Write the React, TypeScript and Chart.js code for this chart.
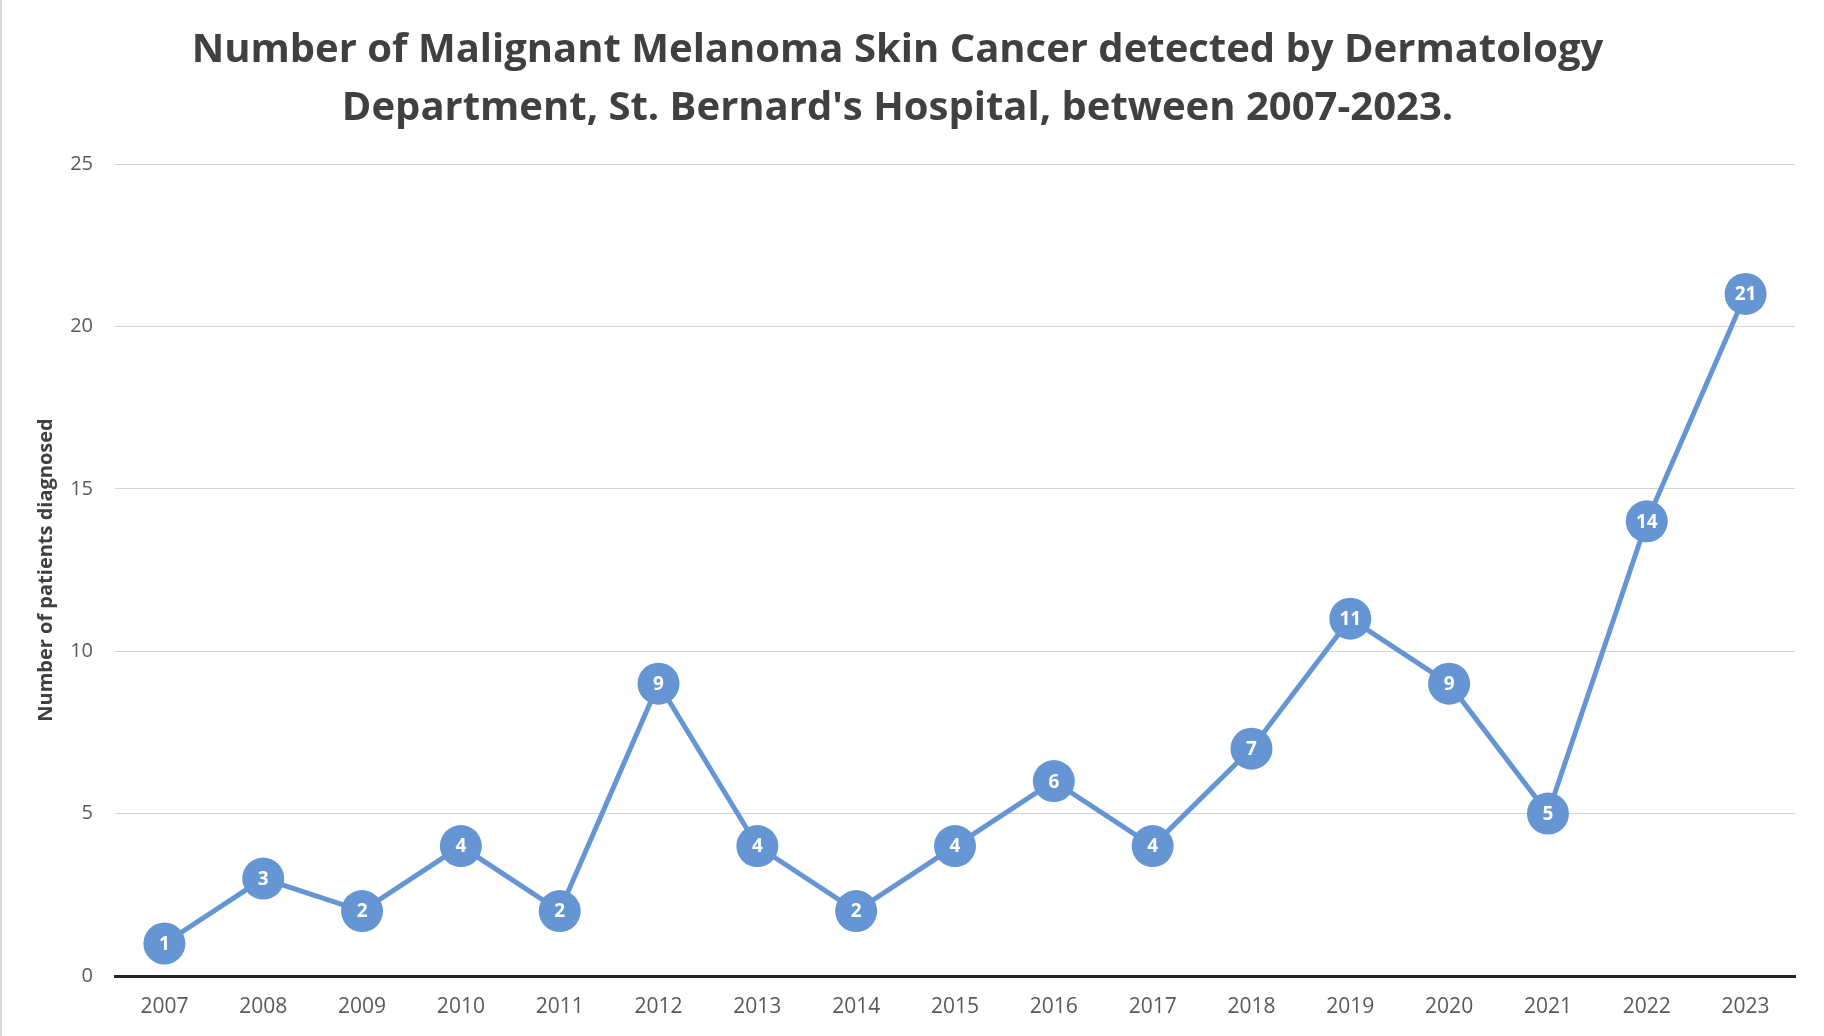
import React, { useEffect, useRef } from "react";
import { Chart, registerables } from "chart.js";

Chart.register(...registerables);

const years = ["2007", "2008", "2009", "2010", "2011", "2012", "2013", "2014", "2015", "2016", "2017", "2018", "2019", "2020", "2021", "2022", "2023"];
const patients = [1, 3, 2, 4, 2, 9, 4, 2, 4, 6, 4, 7, 11, 9, 5, 14, 21];
const titleLines = [
  "Number of Malignant Melanoma Skin Cancer detected by Dermatology",
  "Department, St. Bernard's Hospital, between 2007-2023.",
];
const yTitle = "Number of patients diagnosed";
const yMax = 25;
const yStep = 5;

const LINE = "#6596D3";
const SANS = '"Open Sans", sans-serif';

const pointLabels = {
  id: "pointLabels",
  afterDatasetsDraw(chart: any) {
    const ctx = chart.ctx;
    const meta = chart.getDatasetMeta(0);
    ctx.save();
    ctx.fillStyle = "#ffffff";
    ctx.font = 'bold 19px "Open Sans", sans-serif';
    ctx.textAlign = "center";
    ctx.textBaseline = "middle";
    meta.data.forEach((pt: any, i: number) => {
      ctx.fillText(String(patients[i]), pt.x, pt.y + 1);
    });
    ctx.restore();
  },
};

export default function App() {
  const ref = useRef<HTMLCanvasElement | null>(null);
  useEffect(() => {
    if (!ref.current) return;
    const chart = new Chart(ref.current, {
      type: "line",
      data: {
        labels: years,
        datasets: [
          {
            data: patients,
            borderColor: LINE,
            backgroundColor: LINE,
            borderWidth: 5,
            pointRadius: 21,
            pointBorderWidth: 0,
            pointBackgroundColor: LINE,
            tension: 0,
            clip: false as any,
          },
        ],
      },
      options: {
        animation: false,
        responsive: false,
        layout: { padding: { left: 0, right: 29, top: 0, bottom: 0 } },
        plugins: {
          legend: { display: false },
          tooltip: { enabled: false },
          title: {
            display: true,
            text: titleLines,
            color: "#404040",
            font: { family: SANS, size: 40, weight: "bold", lineHeight: 58 / 40 },
            padding: { top: 22, bottom: 26 },
          },
        },
        scales: {
          x: {
            offset: true,
            grid: { display: false, drawTicks: false },
            border: { display: true, color: "#262626", width: 3 },
            ticks: {
              color: "#595959",
              font: { family: SANS, size: 21 },
              padding: 18,
              maxRotation: 0,
              autoSkip: false,
            },
            afterFit: (s: any) => {
              s.height = 60;
            },
          },
          y: {
            min: 0,
            max: yMax,
            ticks: {
              stepSize: yStep,
              color: "#595959",
              font: { family: SANS, size: 20 },
              padding: 22,
            },
            grid: { color: "#d4d4d4", lineWidth: 1, drawTicks: false },
            border: { display: false },
            title: {
              display: true,
              text: yTitle,
              color: "#404040",
              font: { family: SANS, size: 20, weight: "bold" },
              padding: { top: 34, bottom: 0 },
            },
            afterFit: (s: any) => {
              s.width = 115;
            },
          },
        },
      },
      plugins: [pointLabels],
    });
    return () => chart.destroy();
  }, []);

  return (
    <div style={{ position: "fixed", left: 0, top: 0, width: 1824, height: 1036, background: "#ffffff" }}>
      <canvas ref={ref} width={1824} height={1036} style={{ display: "block" }} />
      <div style={{ position: "absolute", left: 0, top: 0, width: 2, height: 1036, background: "#d9d9d9" }} />
    </div>
  );
}
